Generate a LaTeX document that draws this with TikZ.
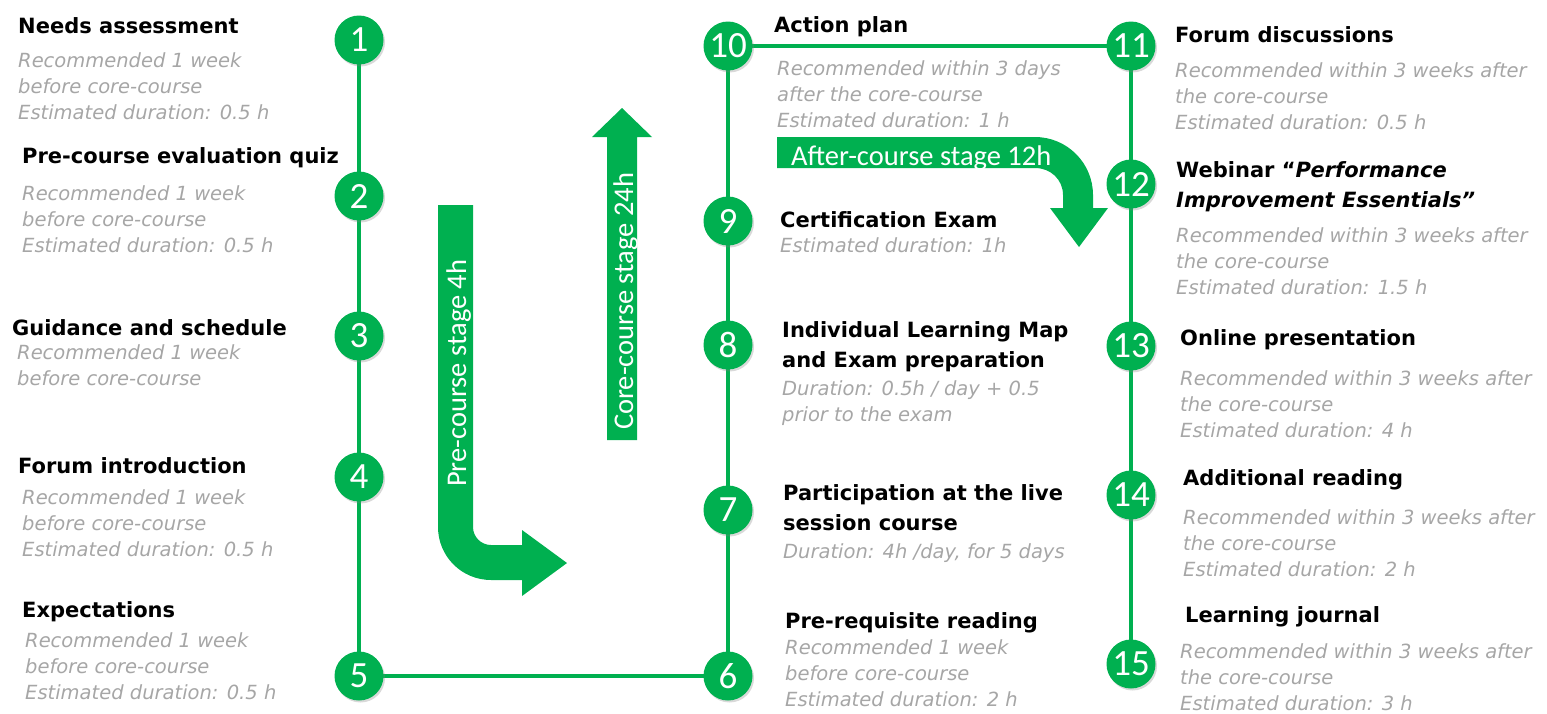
\documentclass[tikz,border=0pt]{standalone}
\usepackage{fontspec}
\setmainfont{DejaVu Sans}
\newfontfamily\carlito{Carlito}
\usetikzlibrary{shadows,backgrounds}
\definecolor{brandgreen}{RGB}{0,176,80}
\definecolor{notegray}{RGB}{166,166,166}
\begin{document}
\begin{tikzpicture}[x=1pt,y=-1pt,
  stepnum/.style={circle, fill=brandgreen, minimum size=49pt, inner sep=0pt, text=white,
    font=\carlito\fontsize{37}{37}\selectfont,
    drop shadow={shadow xshift=1.5pt, shadow yshift=-2pt, opacity=0.3}},
  ttl/.style={anchor=base west, align=left, inner sep=0pt, font=\bfseries\fontsize{21}{30}\selectfont},
  note/.style={anchor=base west, align=left, inner sep=0pt, text=notegray, font=\itshape\fontsize{19.5}{26}\selectfont},
  link/.style={draw=brandgreen, line width=4pt},
  band/.style={fill=brandgreen},
  bandtext/.style={text=white, font=\carlito\fontsize{28.5}{30}\selectfont, inner sep=0pt}
]
\useasboundingbox (0,0) rectangle (1547,713);

% stage arrows
\fill[band] (438,205) -- (438,527) .. controls (438,556.3) and (461.7,580) .. (491,580)
  -- (522,580) -- (522,596) -- (567,563) -- (522,530) -- (522,545) -- (491,545)
  .. controls (481.1,545) and (473,536.9) .. (473,527) -- (473,205) -- cycle;
\fill[band] (607,440) -- (607,137) -- (592,137) -- (622,108) -- (652,137) -- (637,137) -- (637,440) -- cycle;
\fill[band] (777,137) -- (1035,137) .. controls (1067,137) and (1093,163) .. (1093,195)
  -- (1093,208) -- (1108,208) -- (1079,247) -- (1050,208) -- (1063,208) -- (1063,195)
  .. controls (1063,179.5) and (1050.5,168) .. (1035,168) -- (777,168) -- cycle;
\node[bandtext, rotate=90, anchor=base west] (pretxt) at (466,487) {Pre-course stage 4h};
\node[bandtext, rotate=90, anchor=base west] (coretxt) at (633,430) {Core-course stage 24h};
\node[bandtext, anchor=base west] (aftertxt) at (791,165) {After-course stage 12h};

% step circles
\node[stepnum] (c1) at (359,40) {1};
\node[stepnum] (c2) at (359,196) {2};
\node[stepnum] (c3) at (359,336) {3};
\node[stepnum] (c4) at (359,477) {4};
\node[stepnum] (c5) at (359,676) {5};
\node[stepnum] (c6) at (728,676) {6};
\node[stepnum] (c7) at (728,510) {7};
\node[stepnum] (c8) at (728,345) {8};
\node[stepnum] (c9) at (728,221) {9};
\node[stepnum] (c10) at (728,46) {10};
\node[stepnum] (c11) at (1131,46) {11};
\node[stepnum] (c12) at (1131,184) {12};
\node[stepnum] (c13) at (1131,346) {13};
\node[stepnum] (c14) at (1131,495) {14};
\node[stepnum] (c15) at (1131,664) {15};

\begin{scope}[on background layer]
\draw[link] (c1.center) -- (c2.center) -- (c3.center) -- (c4.center) -- (c5.center) -- (c6.center)
  -- (c7.center) -- (c8.center) -- (c9.center) -- (c10.center) -- (c11.center) -- (c12.center)
  -- (c13.center) -- (c14.center) -- (c15.center);
\end{scope}

% texts (multi-line nodes are anchored at the baseline of their last line)
\node[ttl] (t1) at (18,33) {Needs assessment};
\node[note] (n1) at (18,119) {Recommended 1 week\\before core-course\\Estimated duration: 0.5 h};
\node[ttl] (t2) at (22,163) {Pre-course evaluation quiz};
\node[note] (n2) at (22,252) {Recommended 1 week\\before core-course\\Estimated duration: 0.5 h};
\node[ttl] (t3) at (12,335) {Guidance and schedule};
\node[note] (n3) at (17,385) {Recommended 1 week\\before core-course};
\node[ttl] (t4) at (18,473) {Forum introduction};
\node[note] (n4) at (22,556) {Recommended 1 week\\before core-course\\Estimated duration: 0.5 h};
\node[ttl] (t5) at (22,617) {Expectations};
\node[note] (n5) at (25,699) {Recommended 1 week\\before core-course\\Estimated duration: 0.5 h};

\node[ttl] (t6) at (785,628) {Pre-requisite reading};
\node[note] (n6) at (785,706) {Recommended 1 week\\before core-course\\Estimated duration: 2 h};
\node[ttl] (t7) at (783,530) {Participation at the live\\session course};
\node[note] (n7) at (783,558) {Duration: 4h /day, for 5 days};
\node[ttl] (t8) at (782,367) {Individual Learning Map\\and Exam preparation};
\node[note] (n8) at (782,421) {Duration: 0.5h / day + 0.5\\prior to the exam};
\node[ttl] (t9) at (780,227) {Certification Exam};
\node[note] (n9) at (780,252) {Estimated duration: 1h};
\node[ttl] (t10) at (774,32) {Action plan};
\node[note] (n10) at (777,127) {Recommended within 3 days\\after the core-course\\Estimated duration: 1 h};

\node[ttl] (t11) at (1175,42) {Forum discussions};
\node[note] (n11) at (1175,129) {Recommended within 3 weeks after\\the core-course\\Estimated duration: 0.5 h};
\node[ttl] (t12) at (1176,207) {Webinar “\textit{Performance}\\\textit{Improvement Essentials”}};
\node[note] (n12) at (1176,294) {Recommended within 3 weeks after\\the core-course\\Estimated duration: 1.5 h};
\node[ttl] (t13) at (1180,345) {Online presentation};
\node[note] (n13) at (1180,437) {Recommended within 3 weeks after\\the core-course\\Estimated duration: 4 h};
\node[ttl] (t14) at (1183,485) {Additional reading};
\node[note] (n14) at (1183,576) {Recommended within 3 weeks after\\the core-course\\Estimated duration: 2 h};
\node[ttl] (t15) at (1185,622) {Learning journal};
\node[note] (n15) at (1180,710) {Recommended within 3 weeks after\\the core-course\\Estimated duration: 3 h};
\end{tikzpicture}
\end{document}
